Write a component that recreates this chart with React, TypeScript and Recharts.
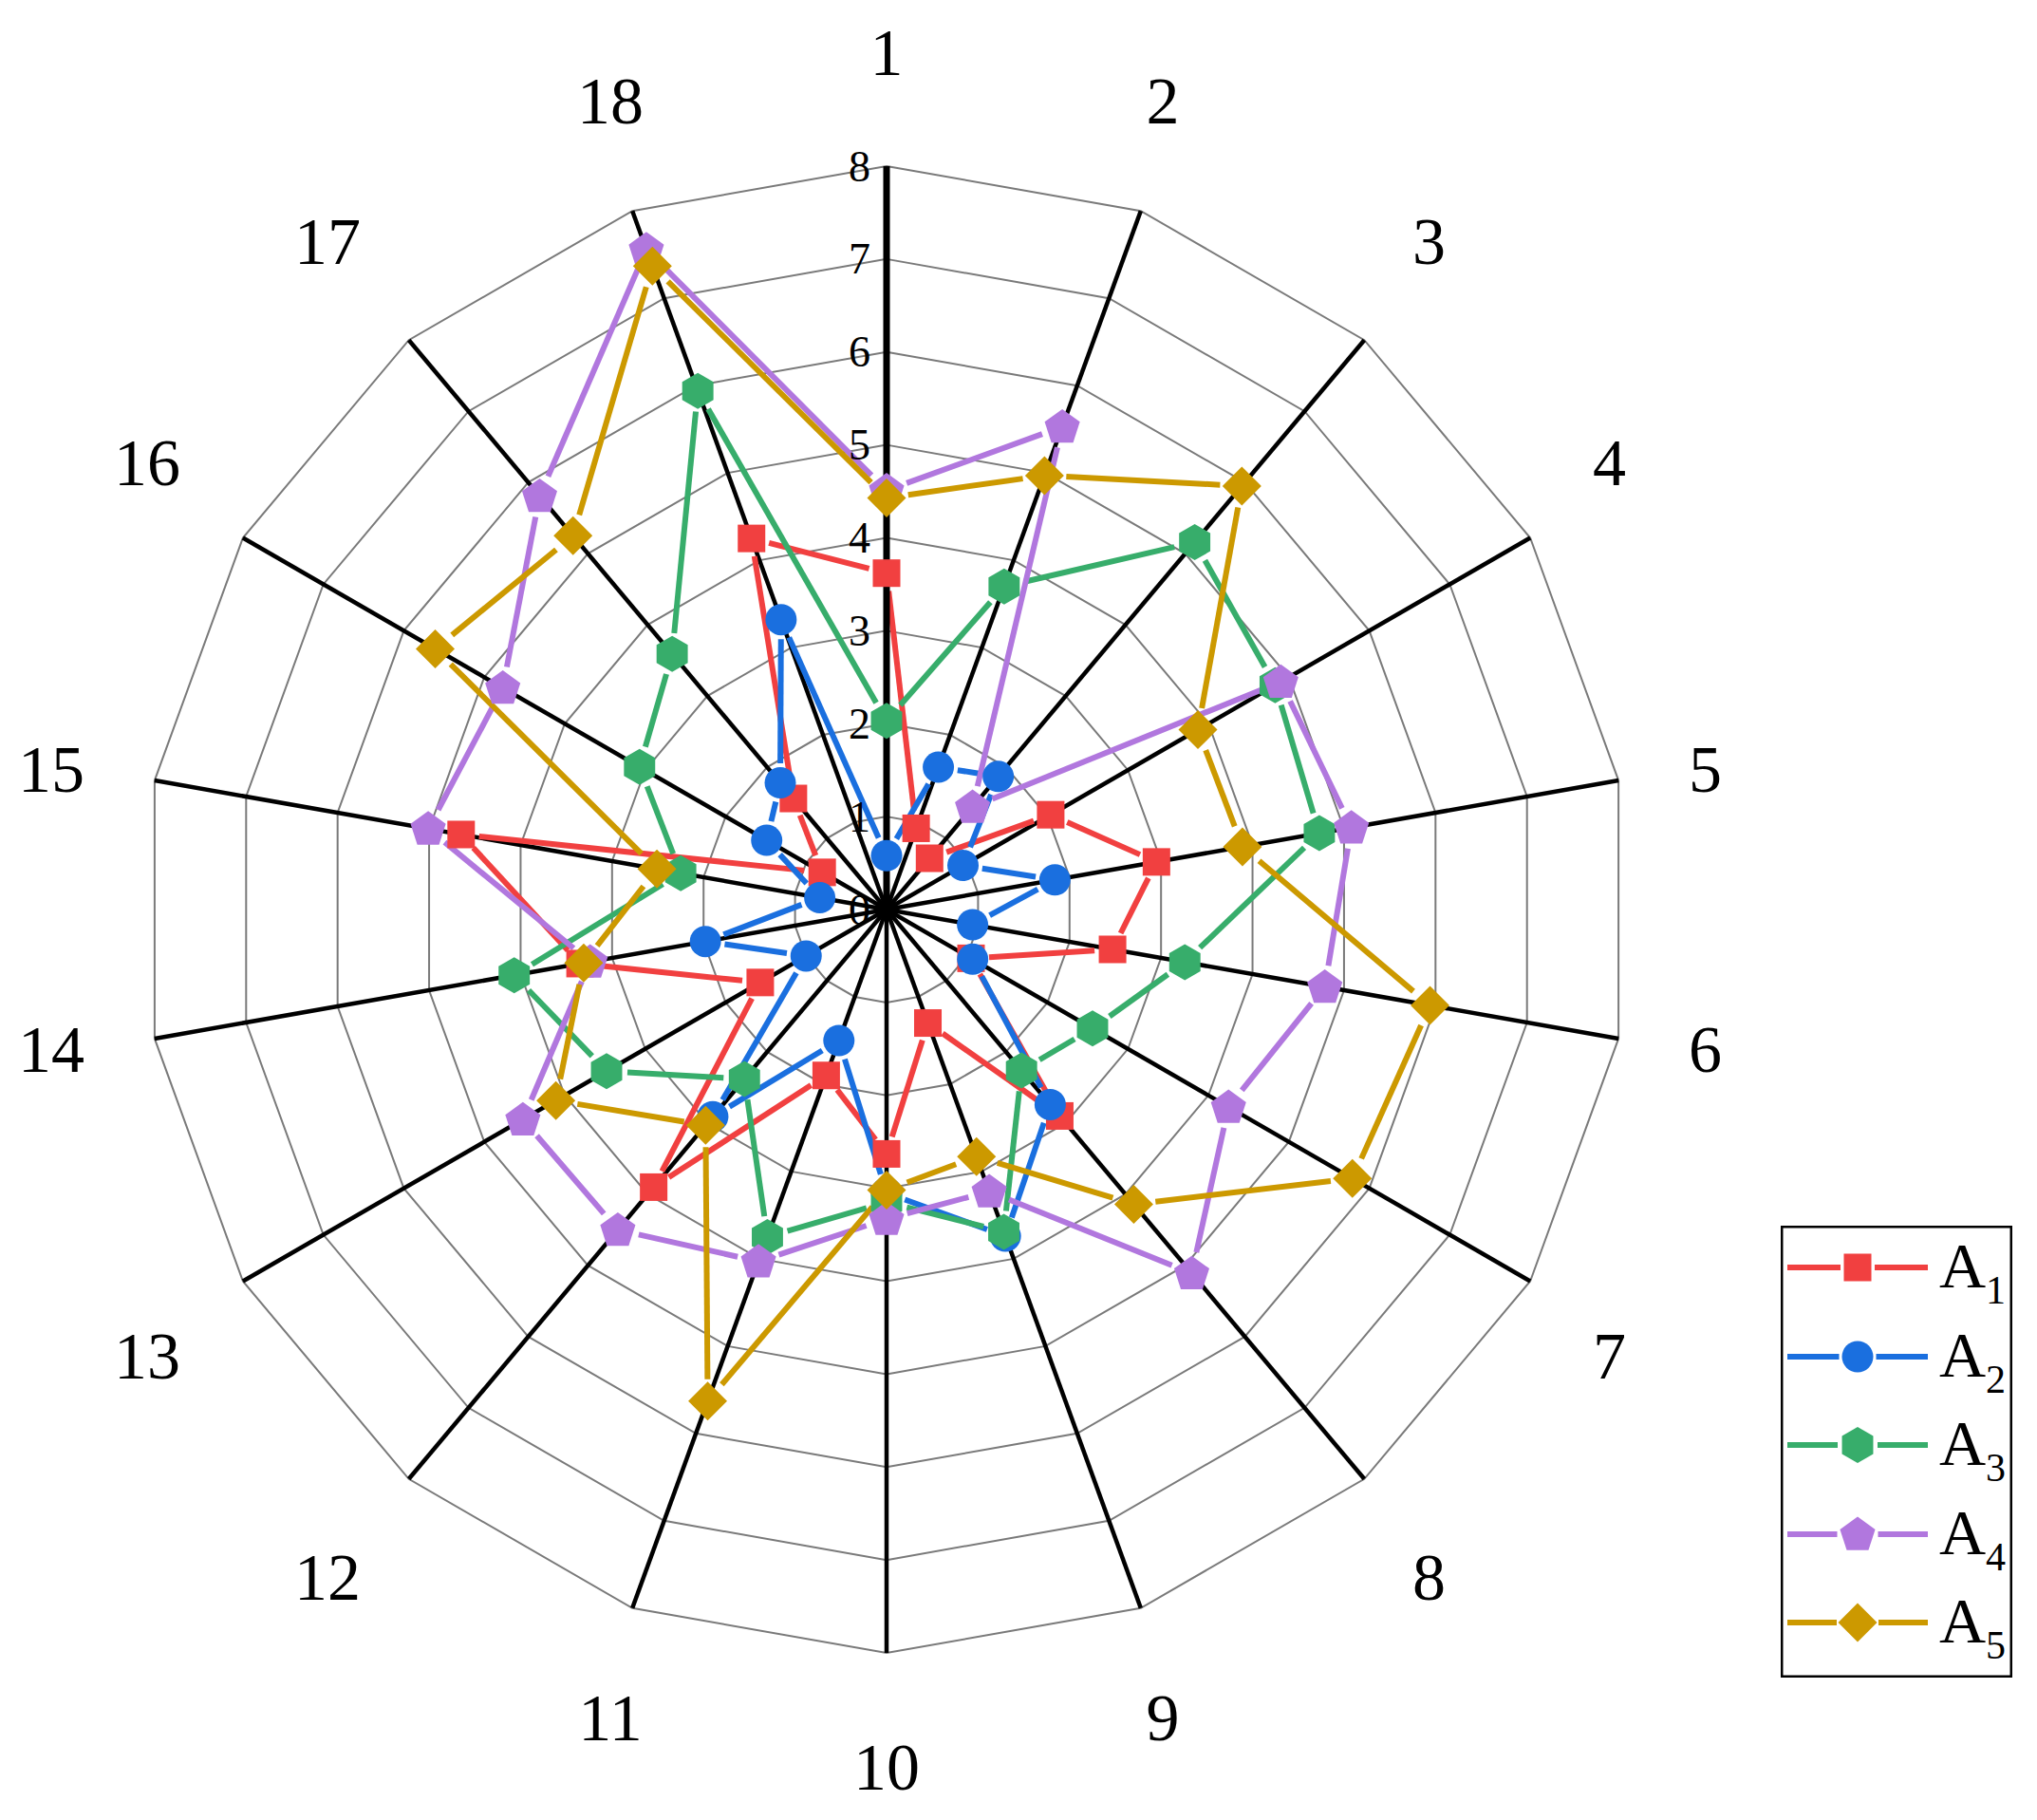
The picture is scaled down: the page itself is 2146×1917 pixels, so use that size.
import React from 'react';
import { RadarChart, Radar, PolarGrid, PolarAngleAxis, PolarRadiusAxis, Legend } from 'recharts';

const categories = ['1', '2', '3', '4', '5', '6', '7', '8', '9', '10', '11', '12', '13', '14', '15', '16', '17', '18'];
const a1 = [3.62, 0.93, 0.72, 2.04, 2.95, 2.47, 1.05, 2.9, 1.3, 2.63, 1.9, 3.9, 1.57, 3.35, 4.65, 0.8, 1.56, 4.25];
const a2 = [0.58, 1.63, 1.87, 0.95, 1.84, 0.94, 1.07, 2.74, 3.74, 3.05, 1.5, 2.91, 1.0, 1.98, 0.73, 1.49, 1.78, 3.32];
const a3 = [2.03, 3.7, 5.16, 4.83, 4.73, 3.26, 2.56, 2.26, 3.69, 3.15, 3.75, 2.38, 3.48, 4.07, 2.25, 3.07, 3.59, 5.94];
const a4 = [4.51, 5.53, 1.44, 4.9, 5.08, 4.79, 4.25, 5.11, 3.23, 3.33, 4.03, 4.5, 4.52, 3.24, 5.01, 4.77, 5.81, 7.56];
const a5 = [4.43, 4.97, 5.95, 3.87, 3.89, 5.94, 5.79, 4.14, 2.83, 3.02, 5.63, 3.03, 4.11, 3.31, 2.51, 5.61, 5.25, 7.37];
const radiusDomain: [number, number] = [0, 8];
const radiusTickCount = 9;

type Shape = 'square' | 'circle' | 'hexagon' | 'pentagon' | 'diamond';

const seriesDefs: { key: string; name: string; sub: string; color: string; shape: Shape; values: number[] }[] = [
  { key: 'A1', name: 'A', sub: '1', color: '#F14040', shape: 'square', values: a1 },
  { key: 'A2', name: 'A', sub: '2', color: '#1A6FDF', shape: 'circle', values: a2 },
  { key: 'A3', name: 'A', sub: '3', color: '#37AD6B', shape: 'hexagon', values: a3 },
  { key: 'A4', name: 'A', sub: '4', color: '#B177DE', shape: 'pentagon', values: a4 },
  { key: 'A5', name: 'A', sub: '5', color: '#CC9900', shape: 'diamond', values: a5 },
];

const data = categories.map((c, i) => {
  const row: any = { cat: c };
  seriesDefs.forEach((s) => {
    row[s.key] = s.values[i];
  });
  return row;
});

const FONT = '"Liberation Serif", "Times New Roman", Times, serif';
const CX = 926;
const CY = 950;
const OUTER = 783;
const LABEL_R0 = 851;
const LABEL_FONT = 70;
const LINE_W = 6;

function polyPoints(x: number, y: number, r: number, n: number, startDeg: number) {
  const pts: string[] = [];
  for (let i = 0; i < n; i++) {
    const a = ((startDeg + (360 / n) * i) * Math.PI) / 180;
    pts.push(`${x + r * Math.cos(a)},${y + r * Math.sin(a)}`);
  }
  return pts.join(' ');
}

function Marker({ shape, x, y, color }: { shape: Shape; x: number; y: number; color: string }) {
  if (x == null || y == null || isNaN(x) || isNaN(y)) return null;
  switch (shape) {
    case 'square':
      return <rect x={x - 14.5} y={y - 14.5} width={29} height={29} fill={color} />;
    case 'circle':
      return <circle cx={x} cy={y} r={16.5} fill={color} />;
    case 'hexagon':
      return <polygon points={polyPoints(x, y, 19, 6, -90)} fill={color} />;
    case 'pentagon':
      return <polygon points={polyPoints(x, y + 1, 19.5, 5, -90)} fill={color} />;
    case 'diamond':
      return <polygon points={polyPoints(x, y, 20.5, 4, -90)} fill={color} />;
    default:
      return null;
  }
}

const markerHalf: Record<Shape, number> = { square: 15, circle: 16.5, hexagon: 18, pentagon: 18.5, diamond: 19 };

function GappedPolygon({ points, color, gap }: { points: any[]; color: string; gap: number }) {
  if (!points || points.length < 2) return null;
  const segs: React.ReactNode[] = [];
  for (let i = 0; i < points.length; i++) {
    const p = points[i];
    const q = points[(i + 1) % points.length];
    const dx = q.x - p.x;
    const dy = q.y - p.y;
    const len = Math.sqrt(dx * dx + dy * dy);
    if (len <= 2 * gap + 1) continue;
    const ux = dx / len;
    const uy = dy / len;
    segs.push(
      <line
        key={i}
        x1={p.x + ux * gap}
        y1={p.y + uy * gap}
        x2={q.x - ux * gap}
        y2={q.y - uy * gap}
        stroke={color}
        strokeWidth={LINE_W}
      />
    );
  }
  return <g>{segs}</g>;
}

function LegendBox() {
  const w = 244;
  const h = 476;
  const rows = [44, 138, 231, 325, 418];
  return (
    <svg width={w} height={h} style={{ display: 'block' }}>
      <rect x={1.25} y={1.25} width={w - 2.5} height={h - 2.5} fill="#fff" stroke="#000" strokeWidth={2.5} />
      {seriesDefs.map((s, i) => {
        const cy = rows[i];
        const mx = 81;
        const gap = markerHalf[s.shape] + 3;
        return (
          <g key={s.key}>
            <line x1={7} y1={cy} x2={mx - gap} y2={cy} stroke={s.color} strokeWidth={6} />
            <line x1={mx + gap} y1={cy} x2={155} y2={cy} stroke={s.color} strokeWidth={6} />
            <Marker shape={s.shape} x={mx} y={cy} color={s.color} />
            <text x={167} y={cy + 21} fontFamily={FONT} fontSize={68} fill="#000">
              {s.name}
              <tspan dy={17} fontSize={42}>
                {s.sub}
              </tspan>
            </text>
          </g>
        );
      })}
    </svg>
  );
}

function AngleTick(p: any) {
  const label = String(p.payload.value);
  const a = (p.payload.coordinate * Math.PI) / 180;
  const dx = Math.cos(a);
  const dy = -Math.sin(a);
  const w = label.length * 0.5 * LABEL_FONT;
  let ox = 0;
  let oy = 0;
  if (Math.abs(dx) > 0.5) ox = Math.sign(dx) * (w / 2 + 7);
  if (Math.abs(dy) > 0.3) oy = Math.sign(dy) * (Math.abs(dy) > 0.6 ? 52 : 45);
  return (
    <text
      x={p.x + ox}
      y={p.y + oy}
      textAnchor="middle"
      dominantBaseline="central"
      fontFamily={FONT}
      fontSize={LABEL_FONT}
      fill="#000"
    >
      {label}
    </text>
  );
}

export default function App() {
  return (
    <div style={{ width: 2130, height: 1901, position: 'relative', background: '#fff' }}>
      <RadarChart
        width={2130}
        height={1901}
        data={data}
        cx={CX}
        cy={CY}
        outerRadius={OUTER}
        margin={{ top: 0, right: 0, bottom: 0, left: 0 }}
      >
        <PolarGrid gridType="polygon" radialLines={false} stroke="#7a7a7a" strokeWidth={2} />
        <PolarGrid gridType="polygon" polarRadius={[]} stroke="#000" strokeWidth={4.5} />
        <PolarAngleAxis
          dataKey="cat"
          axisLine={false}
          tickLine={false}
          tickSize={LABEL_R0 - OUTER}
          tick={(p: any) => <AngleTick key={`at-${p.index}`} {...p} />}
        />
        <PolarRadiusAxis
          angle={90}
          domain={radiusDomain}
          tickCount={radiusTickCount}
          axisLine={{ stroke: '#000', strokeWidth: 7 }}
          tickLine={false}
          tick={(p: any) => (
            <text
              key={`rt-${p.index}`}
              x={p.x - 17}
              y={p.y}
              textAnchor="end"
              dominantBaseline="central"
              fontFamily={FONT}
              fontSize={46}
              fill="#000"
            >
              {p.payload.value}
            </text>
          )}
        />
        <PolarRadiusAxis
          radiusAxisId="down"
          angle={270}
          domain={radiusDomain}
          tickCount={radiusTickCount}
          axisLine={{ stroke: '#000', strokeWidth: 7 }}
          tickLine={false}
          tick={false}
        />
        {seriesDefs.map((s) => (
          <Radar
            key={s.key}
            name={s.key}
            dataKey={s.key}
            stroke={s.color}
            strokeWidth={LINE_W}
            fill="none"
            fillOpacity={0}
            isAnimationActive={false}
            shape={(props: any) => <GappedPolygon points={props.points} color={s.color} gap={markerHalf[s.shape] + 4} />}
            dot={(p: any) => <Marker key={`${s.key}-${p.index}`} shape={s.shape} x={p.cx} y={p.cy} color={s.color} />}
          />
        ))}
        <Legend
          layout="vertical"
          verticalAlign="bottom"
          align="right"
          wrapperStyle={{ position: 'absolute', left: 1868, top: 1283, width: 244, height: 476, right: 'auto', bottom: 'auto' }}
          content={() => <LegendBox />}
        />
      </RadarChart>
    </div>
  );
}
